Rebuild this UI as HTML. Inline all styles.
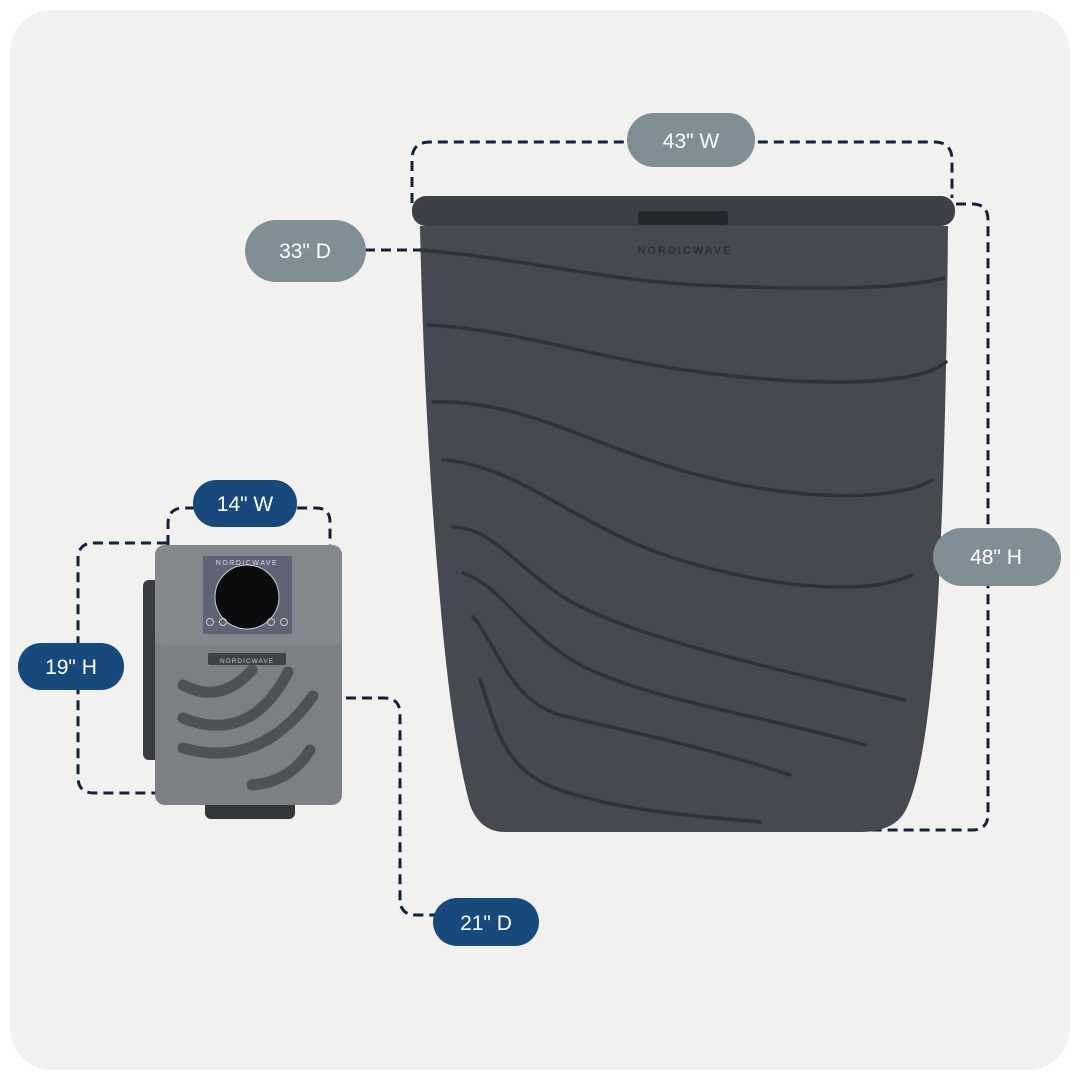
<!DOCTYPE html>
<html><head><meta charset="utf-8"><style>
html,body{margin:0;padding:0;background:#fff;}
svg{display:block}
text{font-family:"Liberation Sans",sans-serif;}
</style></head><body>
<svg width="1080" height="1080" viewBox="0 0 1080 1080" xmlns="http://www.w3.org/2000/svg">
<rect x="10" y="10" width="1060" height="1060" rx="42" fill="#f3f1ef"/>
<g fill="none" stroke="#14213d" stroke-width="3" stroke-dasharray="10 6">
<path d="M412 203 V160 Q412 142 430 142 H934 Q952 142 952 160 V198"/>
<path d="M956 204 H972 Q988 204 988 220 V814 Q988 830 972 830 H815"/>
<path d="M365 250 H420"/>
<path d="M168 545 V524 Q168 508 184 508 H316 Q330 508 330 522 V545"/>
<path d="M167 543 H94 Q78 543 78 559 V777 Q78 793 94 793 H167"/>
<path d="M330 698 H384 Q400 698 400 714 V899 Q400 915 416 915 H435"/>
</g>
<!-- tub -->
<path d="M420 226 H948 Q946 450 938 600 Q928 760 908 805 Q898 832 860 832 H505 Q480 832 470 805 Q452 740 440 600 Q424 420 420 226 Z" fill="#464950"/>
<g fill="none" stroke="#2f323a" stroke-width="3.5" stroke-linecap="round">
<path d="M420 250 C520 258 600 280 700 285 C800 290 900 290 944 278"/>
<path d="M428 325 C520 330 600 360 700 372 C820 388 920 385 946 362"/>
<path d="M433 402 C520 400 580 440 680 470 C800 505 900 500 932 480"/>
<path d="M443 460 C520 465 580 530 680 560 C780 590 870 595 912 575"/>
<path d="M453 527 C490 528 510 560 560 595 C620 635 780 670 905 700"/>
<path d="M463 573 C500 585 520 630 580 665 C650 700 760 715 865 745"/>
<path d="M473 617 C500 650 510 700 560 715 C620 730 700 745 790 775"/>
<path d="M480 680 C495 720 500 770 560 790 C620 810 680 815 760 822"/>
</g>
<rect x="412" y="196" width="543" height="30" rx="14" fill="#3d4047"/>
<rect x="638" y="211" width="90" height="14" rx="3" fill="#25272c"/>
<text x="685" y="254" font-size="11" fill="#2e3037" text-anchor="middle" letter-spacing="2" font-weight="bold">NORDICWAVE</text>
<!-- chiller -->
<rect x="143" y="580" width="18" height="180" rx="6" fill="#3a3c40"/>
<rect x="205" y="795" width="90" height="24" rx="6" fill="#35373b"/>
<rect x="155" y="545" width="187" height="260" rx="10" fill="#7c7f83"/>
<rect x="155" y="545" width="187" height="100" rx="10" fill="#84878b"/>
<rect x="203" y="556" width="89" height="78" fill="#5f6374"/>
<text x="247" y="565" font-size="7" fill="#d8dbe4" text-anchor="middle" letter-spacing="1.5">NORDICWAVE</text>
<circle cx="247" cy="597" r="32" fill="#0c0c0e" stroke="#c8ccd6" stroke-width="1"/>
<g fill="none" stroke="#c8ccd6" stroke-width="1"><circle cx="210" cy="622" r="3.5"/><circle cx="223" cy="622" r="3.5"/><circle cx="271" cy="622" r="3.5"/><circle cx="284" cy="622" r="3.5"/></g>
<rect x="208" y="653" width="78" height="12" rx="2" fill="#404247"/>
<text x="247" y="663" font-size="6.5" fill="#ccc" text-anchor="middle" letter-spacing="1">NORDICWAVE</text>
<g fill="none" stroke="#4e5156" stroke-width="11" stroke-linecap="round">
<path d="M183 685 Q220 705 252 670"/>
<path d="M183 718 Q250 745 288 672"/>
<path d="M183 748 Q260 770 313 696"/>
<path d="M252 785 Q290 782 310 750"/>
</g>
<g font-size="21" text-anchor="middle" fill="#fff">
<rect x="627" y="113" width="128" height="54" rx="27" fill="#7f8f95"/><text x="691" y="148">43" W</text>
<rect x="245" y="220" width="121" height="62" rx="31" fill="#7f8f95"/><text x="305" y="258">33" D</text>
<rect x="933" y="528" width="128" height="58" rx="29" fill="#7f8f95"/><text x="996" y="564">48" H</text>
<rect x="193" y="480" width="104" height="47" rx="23" fill="#17497d"/><text x="245" y="511">14" W</text>
<rect x="18" y="643" width="106" height="47" rx="23" fill="#17497d"/><text x="71" y="674">19" H</text>
<rect x="433" y="898" width="106" height="48" rx="24" fill="#17497d"/><text x="486" y="930">21" D</text>
</g>
</svg>
</body></html>
